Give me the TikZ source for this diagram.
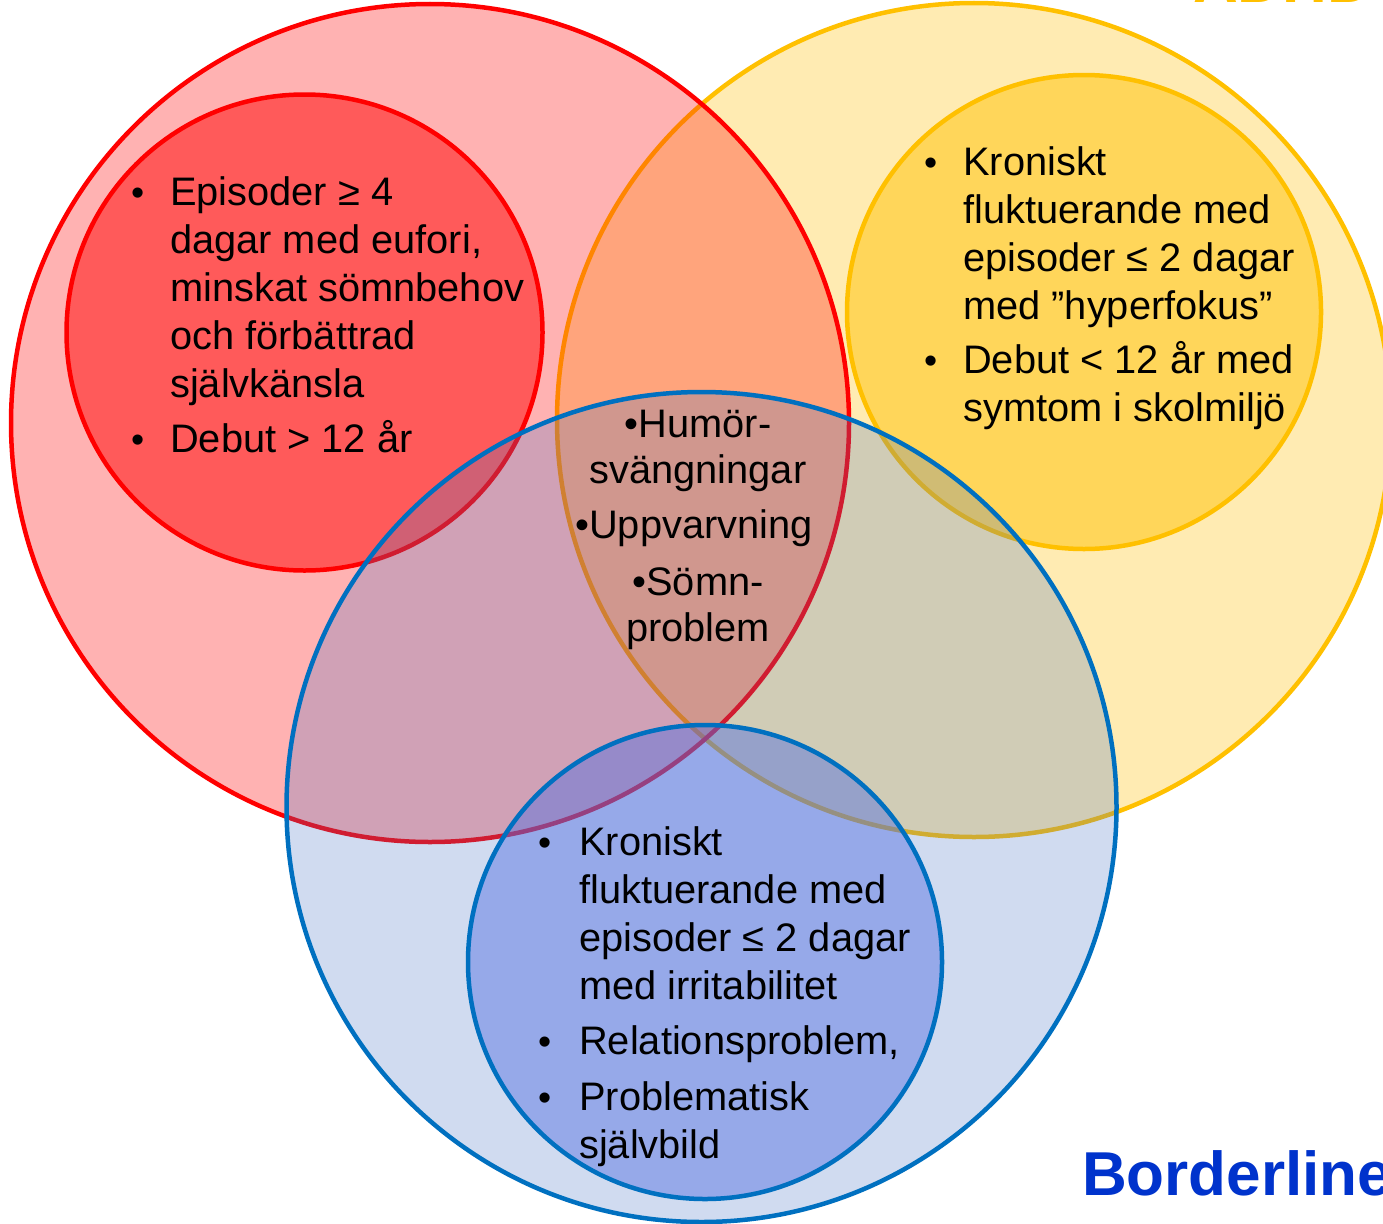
\documentclass[tikz,border=0pt]{standalone}
\usepackage{fontspec}
\setmainfont{Liberation Sans}
\definecolor{redline}{RGB}{255,0,0}
\definecolor{redfill}{RGB}{255,0,0}
\definecolor{redinner}{RGB}{255,90,90}
\definecolor{yelline}{RGB}{255,192,0}
\definecolor{yelfill}{RGB}{255,192,0}
\definecolor{yelinner}{RGB}{255,214,90}
\definecolor{blueline}{RGB}{0,112,192}
\definecolor{bluefill}{RGB}{68,114,196}
\definecolor{blueinner}{RGB}{80,110,225}
\definecolor{bordertxt}{RGB}{0,51,204}
\tikzset{
  ring/.style={line width=4.5pt},
  body/.style={inner sep=0pt, anchor=base west, font=\fontsize{39.8}{48}\selectfont},
  dot/.style={inner sep=0pt, anchor=base west, font=\fontsize{37.5}{48}\selectfont},
  midtext/.style={inner sep=0pt, anchor=base, font=\fontsize{39.8}{46}\selectfont},
  title/.style={inner sep=0pt, anchor=base west, font=\fontsize{62}{70}\selectfont\bfseries},
}
\newcommand{\lines}[1]{\parbox[t]{520pt}{\raggedright #1}}
\begin{document}
\begin{tikzpicture}[x=1pt,y=-1pt]
\useasboundingbox (0,0) rectangle (1383,1223);
\clip (0,0) rectangle (1383,1223);
\fill[white] (0,0) rectangle (1383,1223);

% ADHD set
\draw[ring, draw=yelline, fill=yelfill, fill opacity=0.3] (974,420) circle[radius=417pt];
\draw[ring, draw=yelline, fill=yelinner] (1084,312) circle[radius=237pt];
% bipolar set
\draw[ring, draw=redline, fill=redfill, fill opacity=0.3] (430,423) circle[radius=419pt];
\draw[ring, draw=redline, fill=redinner] (304.5,332.5) circle[radius=238pt];
% borderline set
\draw[ring, draw=blueline, fill=bluefill, fill opacity=0.25] (701.5,807) circle[radius=415pt];
\draw[ring, draw=blueline, fill=blueinner, fill opacity=0.45] (705,962) circle[radius=237pt];

% headings
\node[title, text=yelline] (adhd) at (1193,3) {ADHD};
\node[title, text=bordertxt] (bpd) at (1082,1195) {Borderline};

% bipolar items
\node[dot] (rb1) at (131,205) {•};
\node[body] (rt1) at (170,205) {\lines{Episoder ≥ 4\\dagar med eufori,\\minskat sömnbehov\\och förbättrad\\självkänsla}};
\node[dot] (rb2) at (131,452) {•};
\node[body] (rt2) at (170,452) {Debut > 12 år};

% ADHD items
\node[dot] (yb1) at (924,175) {•};
\node[body] (yt1) at (963,175) {\lines{Kroniskt\\fluktuerande med\\episoder ≤ 2 dagar\\med ”hyperfokus”}};
\node[dot] (yb2) at (924,373) {•};
\node[body] (yt2) at (963,373) {\lines{Debut < 12 år med\\symtom i skolmiljö}};

% borderline items
\node[dot] (bb1) at (538,855) {•};
\node[body] (bt1) at (579,855) {\lines{Kroniskt\\fluktuerande med\\episoder ≤ 2 dagar\\med irritabilitet}};
\node[dot] (bb2) at (538,1054) {•};
\node[body] (bt2) at (579,1054) {Relationsproblem,};
\node[dot] (bb3) at (538,1110) {•};
\node[body] (bt3) at (579,1110) {\lines{Problematisk\\självbild}};

% shared features
\node[midtext] (c1) at (698,437) {\parbox[t]{320pt}{\centering •Humör-\\svängningar}};
\node[midtext] (c2) at (694,538) {•Uppvarvning};
\node[midtext] (c3) at (698,595) {\parbox[t]{320pt}{\centering •Sömn-\\problem}};
\end{tikzpicture}
\end{document}
